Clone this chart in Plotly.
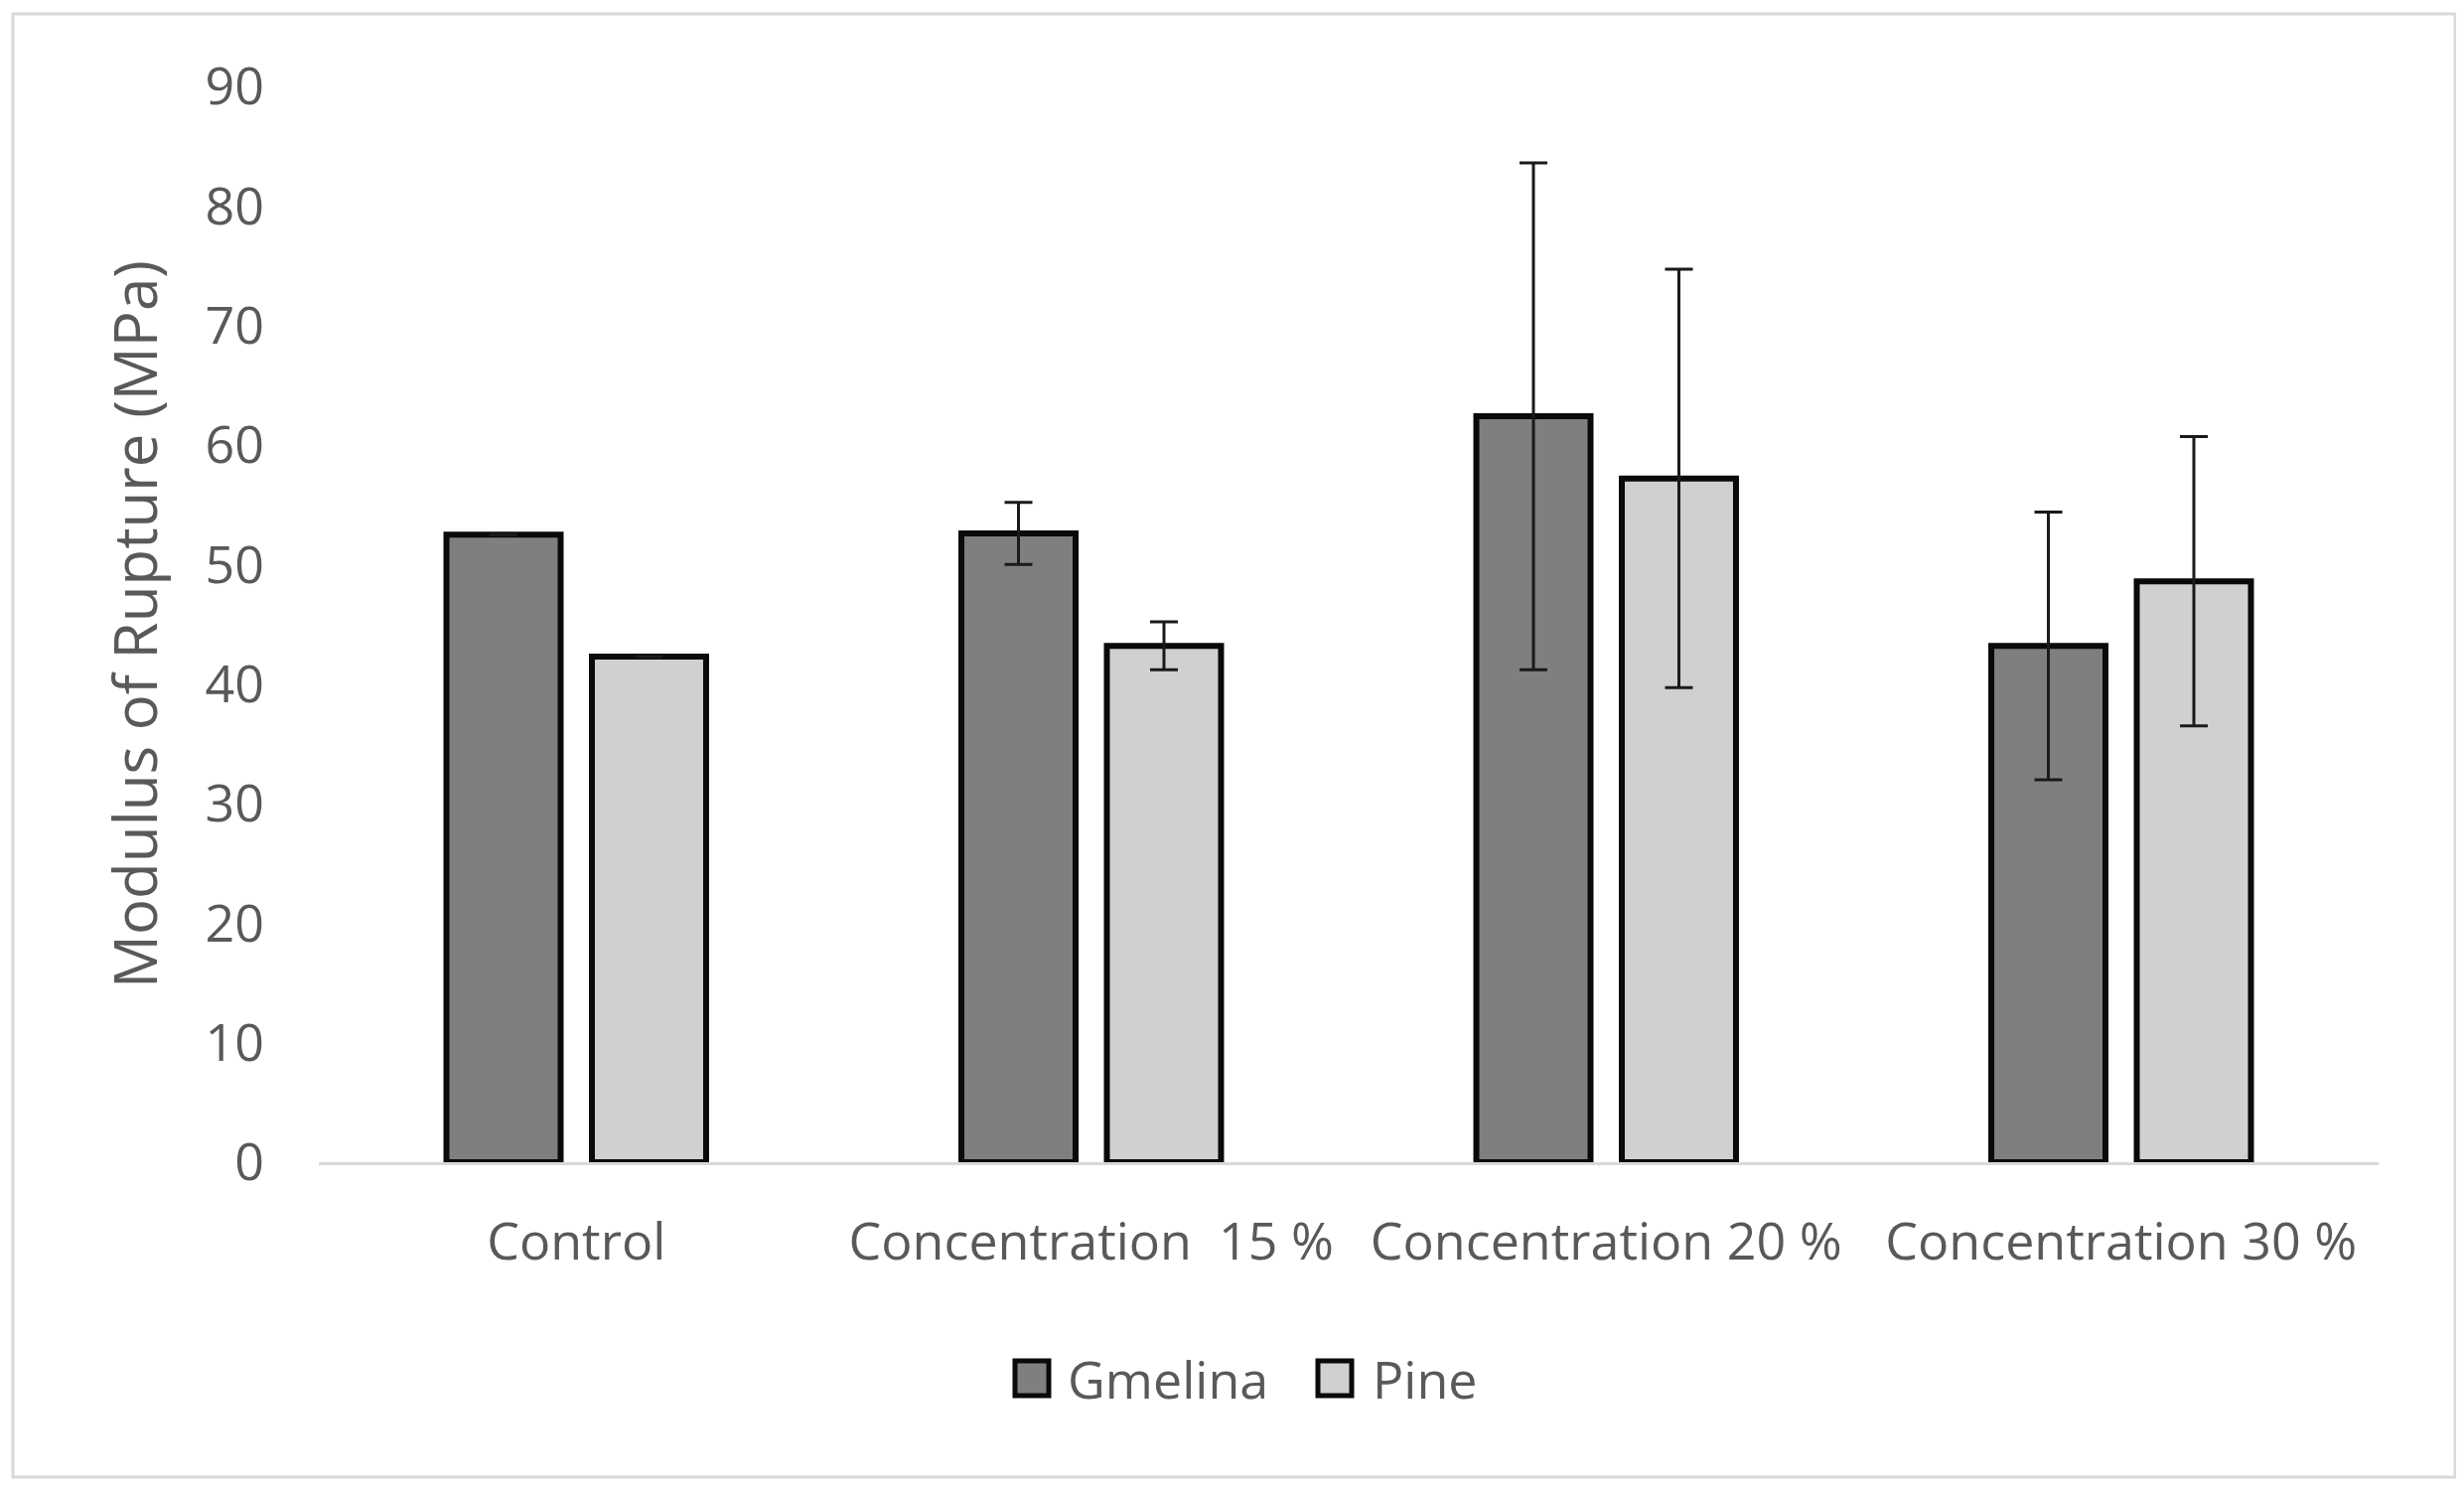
import plotly.graph_objects as go

# ---- data ----
categories = ["Control", "Concentration\u00a0 15 %", "Concentration 20 %", "Concentration 30 %"]
series_names = ["Gmelina", "Pine"]
gmelina = [52.5, 52.6, 62.4, 43.2]
gmelina_err = [0, 2.6, 21.2, 11.2]
pine = [42.3, 43.2, 57.2, 48.6]
pine_err = [0, 2.0, 17.5, 12.1]
y_ticks = [0, 10, 20, 30, 40, 50, 60, 70, 80, 90]

# ---- styling ----
OFF = 8  # page body margin
W, H = 2481 - 2 * OFF, 1500 - 2 * OFF
# plot area in screen pixels
SX0, SX1, SY0, SY1 = 321, 2395, 87, 1170
L, R, T, B = SX0 - OFF, W - (SX1 - OFF), SY0 - OFF, H - (SY1 - OFF)
PW, PH = W - L - R, H - T - B
FONT = "Open Sans"
TXT = "#595959"
colors = ["#7f7f7f", "#d0cfd1"]


def px(x):
    return (x - SX0) / PW


def py(y):
    return (SY1 - y) / PH


fig = go.Figure()
for name, vals, errs, col in zip(series_names, [gmelina, pine], [gmelina_err, pine_err], colors):
    fig.add_trace(go.Bar(
        name=name, x=categories, y=vals,
        marker=dict(color=col, line=dict(color="#0a0a0a", width=6)),
        error_y=dict(type="data", array=errs, visible=True, color="#1a1a1a", thickness=3, width=14),
        showlegend=False,
    ))

shapes = [
    dict(type="rect", xref="paper", yref="paper",
         x0=px(13), x1=px(2472), y0=py(1487), y1=py(14),
         line=dict(color="#d9d9d9", width=3), fillcolor="rgba(0,0,0,0)", layer="below"),
]
annotations = []
# custom legend (large square swatches)
leg_items = [(1022, 1073), (1327, 1380)]
for (sx, tx), name, col in zip(leg_items, series_names, colors):
    shapes.append(dict(type="rect", xref="paper", yref="paper",
                       x0=px(sx), x1=px(sx + 34), y0=py(1405), y1=py(1370),
                       line=dict(color="#0a0a0a", width=5), fillcolor=col))
    annotations.append(dict(xref="paper", yref="paper", x=px(tx), y=py(1387),
                            xanchor="left", yanchor="middle", text=name, showarrow=False,
                            font=dict(family=FONT, size=52, color=TXT)))

fig.update_layout(
    width=W, height=H,
    margin=dict(l=L, r=R, t=T, b=B),
    paper_bgcolor="white", plot_bgcolor="white",
    barmode="group", bargap=0.435, bargroupgap=0.215,
    font=dict(family=FONT, size=52, color=TXT),
    shapes=shapes, annotations=annotations,
    xaxis=dict(showline=True, linecolor="#d9d9d9", linewidth=3, showgrid=False,
               ticks="", tickfont=dict(size=52, color=TXT), ticklabelstandoff=33),
    yaxis=dict(range=[0, 90], tickvals=y_ticks, showgrid=False, zeroline=False, showline=False,
               ticks="", tickfont=dict(size=52, color=TXT), ticklabelstandoff=54,
               title=dict(text="Modulus of Rupture (MPa)", font=dict(size=60, color=TXT), standoff=28)),
)

fig.write_html("out.html")
